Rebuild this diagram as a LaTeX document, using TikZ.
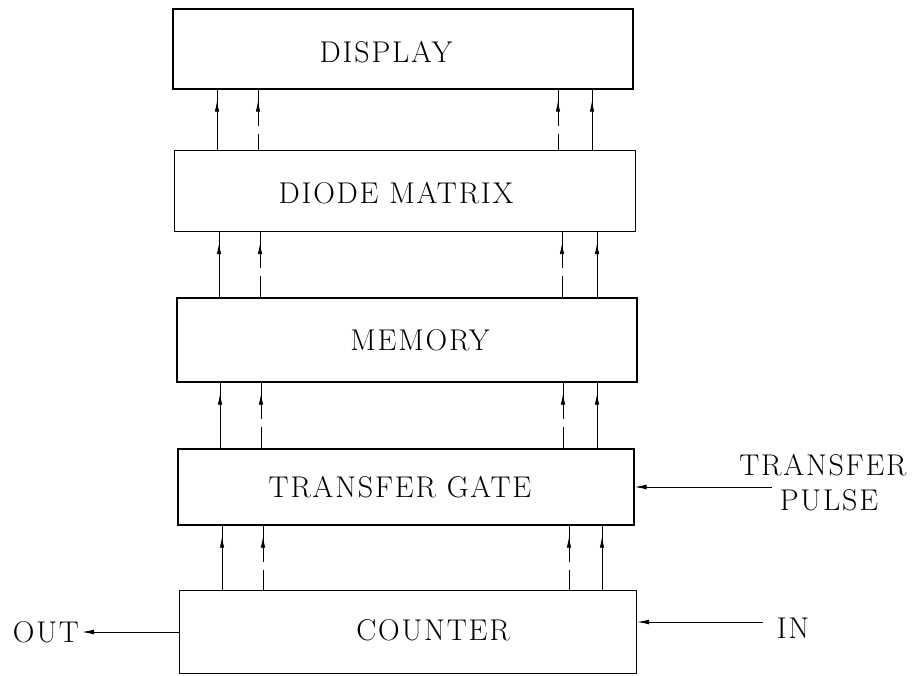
\documentclass[tikz,border=0pt]{standalone}
\usepackage{fontspec}
\setmainfont{Latin Modern Roman}[LetterSpace=6]
\usetikzlibrary{arrows.meta,decorations.markings}
\begin{document}
\begin{tikzpicture}[x=1pt,y=-1pt,
  box/.style={draw,line width=1.4pt,inner sep=0pt},
  lbl/.style={inner sep=0pt,font=\fontsize{30}{34}\selectfont},
  upline/.style={line width=0.9pt,postaction={decorate},
    decoration={markings,mark=at position 22pt with {\arrow{Latex[length=11pt,width=4.5pt,reversed]}}}},
  dashup/.style={upline,dash pattern=on 36pt off 8pt on 400pt},
  hin/.style={line width=0.9pt,-{Latex[length=12pt,width=5pt]}}]
\useasboundingbox (0,0) rectangle (923,676);
% boxes
\node[box,minimum width=460pt,minimum height=80pt] (disp) at (403,49) {};
\node[box,minimum width=461pt,minimum height=81pt] (diode) at (405,191) {};
\node[box,minimum width=460pt,minimum height=84pt] (mem) at (407,340) {};
\node[box,minimum width=456pt,minimum height=76pt] (tg) at (406,487) {};
\node[box,minimum width=457pt,minimum height=83pt] (cnt) at (408,632) {};
% box texts
\node[lbl] (tdisp) at (386,52) {DISPLAY};
\node[lbl] (tdiode) at (396,193) {DIODE MATRIX};
\node[lbl] (tmem) at (420,340) {MEMORY};
\node[lbl] (ttg) at (400,487) {TRANSFER GATE};
\node[lbl] (tcnt) at (433,630) {COUNTER};
% side labels
\node[lbl] (out) at (46,632) {OUT};
\node[lbl] (in) at (793,628) {IN};
\node[lbl] (tp1) at (823,465) {TRANSFER};
\node[lbl] (tp2) at (829,500) {PULSE};
% x positions of vertical links, per level
\coordinate (a1) at (217,0); \coordinate (b1) at (258,0); \coordinate (c1) at (558,0); \coordinate (d1) at (592,0);
\coordinate (a2) at (219,0); \coordinate (b2) at (260,0); \coordinate (c2) at (562,0); \coordinate (d2) at (597,0);
\coordinate (a3) at (220,0); \coordinate (b3) at (261,0); \coordinate (c3) at (563,0); \coordinate (d3) at (597,0);
\coordinate (a4) at (222,0); \coordinate (b4) at (263,0); \coordinate (c4) at (569,0); \coordinate (d4) at (602,0);
% links diode -> display
\draw[upline] (a1 |- disp.south) -- (a1 |- diode.north);
\draw[dashup] (b1 |- disp.south) -- (b1 |- diode.north);
\draw[dashup] (c1 |- disp.south) -- (c1 |- diode.north);
\draw[upline] (d1 |- disp.south) -- (d1 |- diode.north);
% links memory -> diode
\draw[upline] (a2 |- diode.south) -- (a2 |- mem.north);
\draw[dashup] (b2 |- diode.south) -- (b2 |- mem.north);
\draw[dashup] (c2 |- diode.south) -- (c2 |- mem.north);
\draw[upline] (d2 |- diode.south) -- (d2 |- mem.north);
% links transfer gate -> memory
\draw[upline] (a3 |- mem.south) -- (a3 |- tg.north);
\draw[dashup] (b3 |- mem.south) -- (b3 |- tg.north);
\draw[dashup] (c3 |- mem.south) -- (c3 |- tg.north);
\draw[upline] (d3 |- mem.south) -- (d3 |- tg.north);
% links counter -> transfer gate
\draw[upline] (a4 |- tg.south) -- (a4 |- cnt.north);
\draw[dashup] (b4 |- tg.south) -- (b4 |- cnt.north);
\draw[dashup] (c4 |- tg.south) -- (c4 |- cnt.north);
\draw[upline] (d4 |- tg.south) -- (d4 |- cnt.north);
% horizontal signals
\coordinate (tpstart) at (772,487);
\draw[hin] (tpstart) -- (tpstart -| tg.east);
\coordinate (instart) at (763,622);
\draw[hin] (instart) -- (instart -| cnt.east);
\draw[hin] (cnt.west |- out) -- ([xshift=3pt]out.east);
\end{tikzpicture}
\end{document}
